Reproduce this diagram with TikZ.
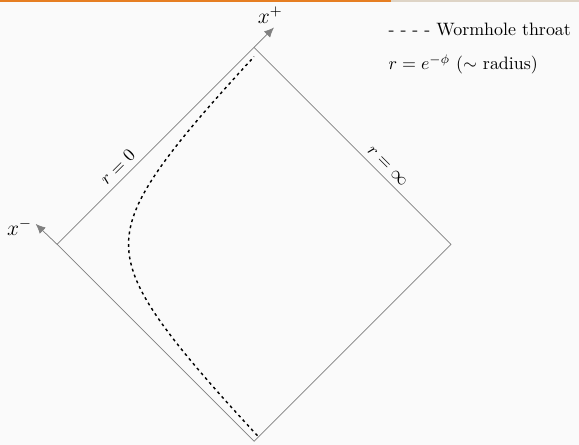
\documentclass[tikz,border=0pt]{standalone}
\usepackage{amsmath,amssymb}
\usetikzlibrary{arrows.meta,calc,positioning}
\definecolor{bgpage}{RGB}{250,250,250}
\definecolor{topbar}{RGB}{230,126,34}
\definecolor{topbarrest}{RGB}{222,212,198}
\definecolor{edgegray}{RGB}{128,128,128}
\tikzset{
  edge/.style={draw=edgegray,thin},
  nullarr/.style={draw=edgegray,fill=edgegray,thin,-{Latex[length=1.9mm,width=1.7mm]}},
  nulllab/.style={font=\large,inner sep=2pt},
  % wormhole throat: dashed black curve
  throat/.style={black,thick,dash pattern=on 1.6pt off 1.9pt},
  bdlab/.style={sloped,above},
  legend/.style={anchor=base west,inner sep=0pt}
}
\begin{document}
\begin{tikzpicture}
  \useasboundingbox (-4.98,-3.93) rectangle (6.37,4.79);
  \fill[bgpage] (-4.98,-3.93) rectangle (6.37,4.79);
  \fill[topbar] (-4.98,4.745) rectangle (2.68,4.79);
  \fill[topbarrest] (2.68,4.745) rectangle (6.37,4.79);

  \coordinate (T) at (0,3.86);
  \coordinate (R) at (3.86,0);
  \coordinate (B) at (0,-3.86);
  \coordinate (L) at (-3.86,0);
  \coordinate (xp) at ($(T)+(0.39,0.39)$);
  \coordinate (xm) at ($(L)+(-0.42,0.4)$);

  \draw[edge] (L) -- node[bdlab,pos=0.35] {$r=0$} (T)
    -- node[bdlab,pos=0.64] {$r=\infty$} (R) -- (B) -- cycle;
  \draw[nullarr] (T) -- (xp) node[nulllab,above,xshift=-2pt] {$x^+$};
  \draw[nullarr] (L) -- (xm) node[nulllab,left,yshift=-2pt] {$x^-$};

  \draw[throat, domain=-3.75:3.68, smooth, variable=\y, samples=60]
    plot ({-3.98+sqrt(\y*\y+2.31)},{\y});

  \node[legend] (lthroat) at (2.63,4.09) {- - - - Wormhole throat};
  \node[legend] (lradius) at (2.63,3.42) {$r=e^{-\phi}$ ($\sim$ radius)};
\end{tikzpicture}
\end{document}
